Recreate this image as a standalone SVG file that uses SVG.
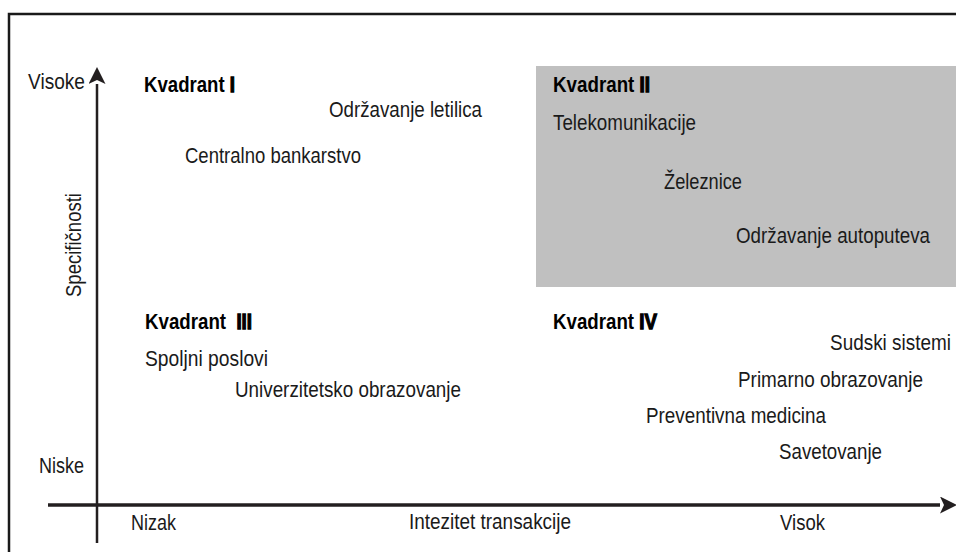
<svg xmlns="http://www.w3.org/2000/svg" width="956" height="552" viewBox="0 0 956 552">
<style>
text{font-family:"Liberation Sans",Arial,sans-serif;font-size:22px;fill:#1a1a1a}
.b{font-weight:bold;fill:#000}
.num{stroke:#000;stroke-width:1.3}
.ax{stroke:#231f20;fill:none}
.frame{stroke:#1a1a1a;stroke-width:2.5;fill:none}
</style>
<defs>
<marker id="ah" viewBox="0 0 17 17" refX="0" refY="8.5" markerWidth="17" markerHeight="17" markerUnits="userSpaceOnUse" orient="auto">
<path d="M0,0 L17,8.5 L0,17 L4,8.5 Z" fill="#231f20"/>
</marker>
</defs>
<rect width="956" height="552" fill="#fff"/>
<path class="frame" d="M9,552 V14 H956"/>
<rect id="quadrant2-bg" x="536" y="66" width="420" height="221" fill="#c0c0c0"/>
<g id="connectors">
<path class="ax" stroke-width="2.5" d="M97,543 V84" marker-end="url(#ah)"/>
<path class="ax" stroke-width="3.5" d="M48,505 H940" marker-end="url(#ah)"/>
</g>
<g id="axis-labels">
<text x="28" y="89" textLength="57" lengthAdjust="spacingAndGlyphs">Visoke</text>
<text x="39" y="473" textLength="45" lengthAdjust="spacingAndGlyphs">Niske</text>
<text transform="translate(81,297) rotate(-90)" x="0" y="0" textLength="104" lengthAdjust="spacingAndGlyphs">Specifičnosti</text>
<text x="131" y="530" textLength="45" lengthAdjust="spacingAndGlyphs">Nizak</text>
<text x="409" y="529" textLength="162" lengthAdjust="spacingAndGlyphs">Intezitet transakcije</text>
<text x="780" y="530" textLength="45" lengthAdjust="spacingAndGlyphs">Visok</text>
</g>
<g id="kvadrant1">
<text class="b" x="144" y="92" textLength="91" lengthAdjust="spacingAndGlyphs">Kvadrant <tspan class="num">I</tspan></text>
<text x="329" y="117" textLength="153" lengthAdjust="spacingAndGlyphs">Održavanje letilica</text>
<text x="185" y="163" textLength="176" lengthAdjust="spacingAndGlyphs">Centralno bankarstvo</text>
</g>
<g id="kvadrant2">
<text class="b" x="553" y="92" textLength="97" lengthAdjust="spacingAndGlyphs">Kvadrant <tspan class="num">II</tspan></text>
<text x="553" y="130" textLength="143" lengthAdjust="spacingAndGlyphs">Telekomunikacije</text>
<text x="664" y="189" textLength="78" lengthAdjust="spacingAndGlyphs">Železnice</text>
<text x="736" y="243" textLength="194" lengthAdjust="spacingAndGlyphs">Održavanje autoputeva</text>
</g>
<g id="kvadrant3">
<text class="b" x="145" y="329" textLength="107" lengthAdjust="spacingAndGlyphs" xml:space="preserve">Kvadrant  <tspan class="num">III</tspan></text>
<text x="145" y="366" textLength="123" lengthAdjust="spacingAndGlyphs">Spoljni poslovi</text>
<text x="235" y="397" textLength="226" lengthAdjust="spacingAndGlyphs">Univerzitetsko obrazovanje</text>
</g>
<g id="kvadrant4">
<text class="b" x="553" y="329" textLength="104" lengthAdjust="spacingAndGlyphs">Kvadrant <tspan class="num">IV</tspan></text>
<text x="830" y="350" textLength="121" lengthAdjust="spacingAndGlyphs">Sudski sistemi</text>
<text x="738" y="387" textLength="185" lengthAdjust="spacingAndGlyphs">Primarno obrazovanje</text>
<text x="646" y="423" textLength="180" lengthAdjust="spacingAndGlyphs">Preventivna medicina</text>
<text x="779" y="459" textLength="103" lengthAdjust="spacingAndGlyphs">Savetovanje</text>
</g>
</svg>
